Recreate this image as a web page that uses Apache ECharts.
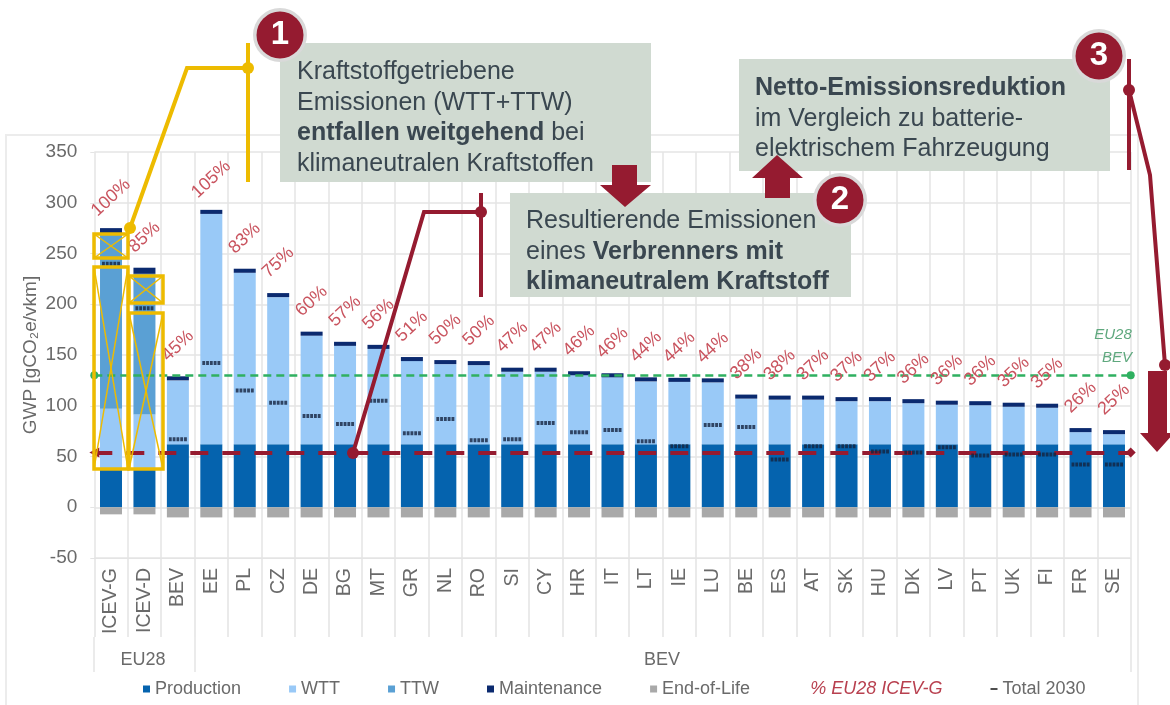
<!DOCTYPE html>
<html>
<head>
<meta charset="utf-8">
<title>GWP</title>
<script src="https://cdn.jsdelivr.net/npm/echarts@6/dist/echarts.min.js"></script>
<style>
  html, body { margin: 0; padding: 0; background: #fff; }
  #chart { width: 1170px; height: 705px; }
</style>
</head>
<body>
<div id="chart"></div>
<script>
var categories = ["ICEV-G", "ICEV-D", "BEV", "EE", "PL", "CZ", "DE", "BG", "MT", "GR", "NL", "RO", "SI", "CY", "HR", "IT", "LT", "IE", "LU", "BE", "ES", "AT", "SK", "HU", "DK", "LV", "PT", "UK", "FI", "FR", "SE"];
var production = [38, 38, 62, 62, 62, 62, 62, 62, 62, 62, 62, 62, 62, 62, 62, 62, 62, 62, 62, 62, 62, 62, 62, 62, 62, 62, 62, 62, 62, 62, 62];
var wtt = [59, 53.5, 63, 227, 169, 145, 107, 97, 94, 82, 79, 78, 71.5, 71.5, 68, 66, 62, 61.5, 61, 45, 44, 44, 42.5, 42.5, 40.5, 39, 38.5, 37, 36, 12, 10];
var ttw = [172, 138.5, 0, 0, 0, 0, 0, 0, 0, 0, 0, 0, 0, 0, 0, 0, 0, 0, 0, 0, 0, 0, 0, 0, 0, 0, 0, 0, 0, 0, 0];
var maintenance = [6, 6, 4, 4, 4, 4, 4, 4, 4, 4, 4, 4, 4, 4, 4, 4, 4, 4, 4, 4, 4, 4, 4, 4, 4, 4, 4, 4, 4, 4, 4];
var endOfLife = [-7, -7, -10, -10, -10, -10, -10, -10, -10, -10, -10, -10, -10, -10, -10, -10, -10, -10, -10, -10, -10, -10, -10, -10, -10, -10, -10, -10, -10, -10, -10];
var total2030 = [240, 196, 67, 142, 115, 103, 90, 82, 105, 73, 87, 66, 67, 83, 74, 76, 65, 60, 81, 79, 47, 60, 60, 55, 54, 59, 51, 52, 52, 42, 42];
var percentOfIcev = [100, 85, 45, 105, 83, 75, 60, 57, 56, 51, 50, 50, 47, 47, 46, 46, 44, 44, 44, 38, 38, 37, 37, 37, 36, 36, 36, 35, 35, 26, 25];
var bevAverage = 130;
var neutralFuelLevel = 54;

var RED = "#951b30";
var YELLOW = "#edbb00";
var BOX = "#d0dad1";
var TEXT = "#3a4750";
var GREY = "#6a6a6a";
var GRID = "#e4e4e4";
var FONT = '"Liberation Sans", Arial, sans-serif';

// top of each stack, the percent labels hang above it
var stackTop = categories.map(function(c, i) {
  return production[i] + wtt[i] + ttw[i] + maintenance[i];
});

function barSeries(name, data, color) {
  return {
    name: name,
    type: "bar",
    stack: "gwp",
    barWidth: 22,
    itemStyle: { color: color },
    data: data
  };
}

function line(points, color, width) {
  return {
    type: "polyline",
    z: 20,
    shape: { points: points },
    style: { stroke: color, lineWidth: width, fill: null }
  };
}

function dot(x, y, color, r) {
  return { type: "circle", z: 21, shape: { cx: x, cy: y, r: r }, style: { fill: color } };
}

function polygon(points, color) {
  return { type: "polygon", z: 22, shape: { points: points }, style: { fill: color } };
}

function box(x, y, w, h) {
  return { type: "rect", z: 15, shape: { x: x, y: y, width: w, height: h }, style: { fill: BOX } };
}

function boxText(x, y, text) {
  return {
    type: "text",
    z: 16,
    x: x,
    y: y,
    style: {
      text: text,
      rich: {
        n: { font: "25px " + FONT, fill: TEXT, lineHeight: 30.5 },
        b: { font: "bold 25px " + FONT, fill: TEXT, lineHeight: 30.5 }
      }
    }
  };
}

function badge(x, y, label) {
  return {
    type: "group",
    z: 30,
    children: [
      { type: "circle", z: 30, shape: { cx: x, cy: y, r: 27 }, style: { fill: "#d9d9d9" } },
      { type: "circle", z: 31, shape: { cx: x, cy: y, r: 23.5 }, style: { fill: RED } },
      {
        type: "text",
        z: 32,
        x: x,
        y: y,
        style: { text: label, font: "bold 33px " + FONT, fill: "#fff", align: "center", verticalAlign: "middle" }
      }
    ]
  };
}

// yellow frame with a thin cross over the fuel driven part of the ICEV bars
function crossedBox(x, y, w, h) {
  return [
    { type: "rect", z: 18, shape: { x: x, y: y, width: w, height: h }, style: { stroke: YELLOW, lineWidth: 3.5, fill: null } },
    line([[x, y], [x + w, y + h]], YELLOW, 1.5),
    line([[x + w, y], [x, y + h]], YELLOW, 1.5)
  ];
}

function axisNote(x, y, text, color, italic) {
  return {
    type: "text",
    z: 10,
    x: x,
    y: y,
    style: {
      text: text,
      font: (italic ? "italic " : "") + (italic ? "15px " : "18px ") + FONT,
      fill: color,
      align: "center",
      verticalAlign: "middle"
    }
  };
}

var graphics = [
  { type: "rect", z: -1, shape: { x: 6, y: 135, width: 1132, height: 600 }, style: { stroke: "#ececec", lineWidth: 2, fill: null } },
  line([[94, 637], [94, 672]], GRID, 1.5),
  line([[195, 637], [195, 672]], GRID, 1.5),
  line([[1131, 637], [1131, 672]], GRID, 1.5),
  axisNote(143, 660, "EU28", GREY),
  axisNote(662, 660, "BEV", GREY),
  axisNote(1113, 335, "EU28", "#5fa87e", true),
  axisNote(1117, 358, "BEV", "#5fa87e", true),

  box(280, 43, 371, 139),
  boxText(297, 57, "{n|Kraftstoffgetriebene}\n{n|Emissionen (WTT+TTW)}\n{b|entfallen weitgehend}{n| bei}\n{n|klimaneutralen Kraftstoffen}"),
  box(510, 193, 341, 104),
  boxText(526, 206, "{n|Resultierende Emissionen}\n{n|eines }{b|Verbrenners mit}\n{b|klimaneutralem Kraftstoff}"),
  box(739, 59, 371, 112),
  boxText(755, 73, "{b|Netto-Emissionsreduktion}\n{n|im Vergleich zu batterie-}\n{n|elektrischem Fahrzeugung}"),

  // callout 1
  line([[248, 43], [248, 182]], YELLOW, 4),
  line([[248, 68], [187, 68], [130, 228]], YELLOW, 4),
  dot(248, 68, YELLOW, 6),
  dot(130, 228, YELLOW, 6),

  // callout 2
  line([[481, 193], [481, 297]], RED, 4),
  line([[481, 212], [424, 212], [353, 453]], RED, 4),
  dot(481, 212, RED, 6),
  dot(353, 453, RED, 6),

  // callout 3
  line([[1129, 59], [1129, 170]], RED, 4),
  line([[1129, 90], [1150, 175], [1165, 365]], RED, 4),
  dot(1129, 90, RED, 6),
  dot(1165, 365, RED, 6),

  polygon([[612, 165], [637, 165], [637, 185], [651, 185], [625, 207], [600, 185], [612, 185]], RED),
  polygon([[765, 198], [790, 198], [790, 178], [803, 178], [777, 155], [752, 178], [765, 178]], RED),
  polygon([[1148, 371], [1167, 371], [1167, 433], [1174, 433], [1157, 452], [1140, 433], [1148, 433]], RED),

  badge(280, 35, "1"),
  badge(840, 200, "2"),
  badge(1099, 56, "3")
]
  .concat(crossedBox(94, 234, 34, 24))
  .concat(crossedBox(94, 267, 34, 202))
  .concat(crossedBox(129, 276, 34, 27))
  .concat(crossedBox(129, 313, 34, 156));

var option = {
  animation: false,
  backgroundColor: "#fff",
  textStyle: { fontFamily: FONT },
  grid: { left: 94.3, top: 152, width: 1036.4, height: 406 },
  legend: {
    left: 138,
    top: 675,
    itemWidth: 7,
    itemHeight: 7,
    itemGap: 48,
    textStyle: { fontSize: 18, color: GREY, fontFamily: FONT },
    data: [
      { name: "Production", icon: "rect" },
      { name: "WTT", icon: "rect" },
      { name: "TTW", icon: "rect" },
      { name: "Maintenance", icon: "rect" },
      { name: "End-of-Life", icon: "rect" },
      { name: "% EU28 ICEV-G", icon: "none", textStyle: { color: "#b8404f", fontStyle: "italic" } },
      { name: "Total 2030", icon: "path://M0 3h7v2h-7z", itemStyle: { color: "#222" } }
    ]
  },
  xAxis: {
    type: "category",
    data: categories,
    axisLine: { onZero: false, lineStyle: { color: GRID } },
    axisTick: { show: true, length: 79, lineStyle: { color: GRID, width: 1.5 } },
    axisLabel: { rotate: 90, interval: 0, margin: 10, fontSize: 19.5, color: GREY, fontFamily: FONT },
    splitLine: { show: true, lineStyle: { color: GRID, width: 1.5 } }
  },
  yAxis: {
    type: "value",
    min: -50,
    max: 350,
    interval: 50,
    name: "GWP [gCO₂e/vkm]",
    nameLocation: "middle",
    nameGap: 54,
    nameMoveOverlap: false,
    nameTextStyle: { fontSize: 19, color: GREY, fontFamily: FONT },
    axisLine: { show: false },
    axisTick: { show: true, length: 4, lineStyle: { color: GRID } },
    axisLabel: { fontSize: 19, color: GREY, margin: 17, fontFamily: FONT },
    splitLine: { lineStyle: { color: GRID, width: 1.5 } }
  },
  series: [
    barSeries("Production", production, "#0563ae"),
    barSeries("WTT", wtt, "#99c9f7"),
    barSeries("TTW", ttw, "#5aa0d4"),
    barSeries("Maintenance", maintenance, "#0b2a6f"),
    barSeries("End-of-Life", endOfLife, "#a9a9a9"),
    {
      name: "% EU28 ICEV-G",
      type: "line",
      z: 6,
      data: stackTop,
      symbol: "circle",
      symbolSize: 1,
      showAllSymbol: true,
      itemStyle: { color: "rgba(0,0,0,0)" },
      lineStyle: { opacity: 0 },
      label: {
        show: true,
        position: "top",
        distance: 30,
        rotate: 43,
        align: "center",
        verticalAlign: "middle",
        fontSize: 18,
        color: "#c9545f",
        fontFamily: FONT,
        formatter: function(params) {
          return percentOfIcev[params.dataIndex] + "%";
        }
      },
      markLine: {
        silent: true,
        symbol: ["circle", "circle"],
        symbolSize: 8,
        label: { show: false },
        lineStyle: { color: "#2fb060", type: [8, 5], width: 2.5 },
        data: [{ yAxis: bevAverage }]
      }
    },
    {
      name: "Total 2030",
      type: "scatter",
      z: 5,
      // five small blocks, the original marker looks like a dotted dash
      symbol: "path://M0 0h3v4h-3zM4 0h3v4h-3zM8 0h3v4h-3zM12 0h3v4h-3zM16 0h3v4h-3z",
      symbolSize: [18, 4],
      itemStyle: { color: "#14233f" },
      data: total2030,
      markLine: {
        silent: true,
        symbol: ["triangle", "diamond"],
        symbolSize: 10,
        label: { show: false },
        lineStyle: { color: RED, type: [18, 14], width: 4 },
        data: [{ yAxis: neutralFuelLevel }]
      }
    }
  ],
  graphic: graphics
};

var chart = echarts.init(document.getElementById("chart"));
chart.setOption(option);
</script>
</body>
</html>
